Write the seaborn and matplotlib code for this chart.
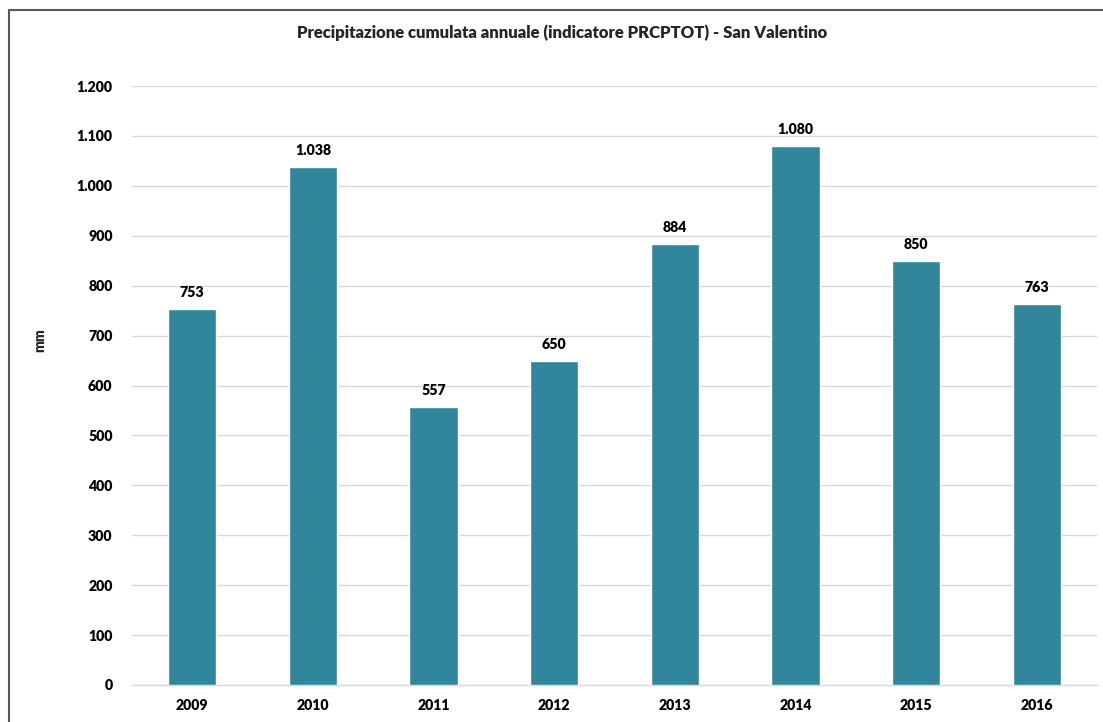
import matplotlib
matplotlib.use("Agg")
import matplotlib.pyplot as plt
import matplotlib.ticker as mticker
from matplotlib.patches import Rectangle
import seaborn as sns
import pandas as pd

years = ["2009", "2010", "2011", "2012", "2013", "2014", "2015", "2016"]
precip = [753, 1038, 557, 650, 884, 1080, 850, 763]
y_ticks = [0, 100, 200, 300, 400, 500, 600, 700, 800, 900, 1000, 1100, 1200]

title = "Precipitazione cumulata annuale (indicatore PRCPTOT) - San Valentino"

sns.set_theme(style="white")
plt.rcParams["font.family"] = ["Lato", "DejaVu Sans"]
plt.rcParams["font.weight"] = "bold"


def it_fmt(v):
    # thousands separator as in Italian locale
    return f"{int(round(v)):,}".replace(",", ".")


df = pd.DataFrame({"anno": years, "mm": precip})

fig = plt.figure(figsize=(11.03, 7.22), dpi=100)
ax = fig.add_axes([132 / 1103, 1 - 685 / 722, (1097 - 132) / 1103, (685 - 86) / 722])

sns.barplot(data=df, x="anno", y="mm", color="#31869b", saturation=1,
            width=0.4, ax=ax, zorder=3)

ax.set_ylim(0, 1200)
ax.set_yticks(y_ticks)
ax.yaxis.set_major_formatter(mticker.FuncFormatter(lambda v, p: it_fmt(v)))
ax.grid(axis="y", color="#d9d9d9", linewidth=1, zorder=0)
for s in ["top", "right", "left"]:
    ax.spines[s].set_visible(False)
ax.spines["bottom"].set_color("#d9d9d9")
ax.spines["bottom"].set_linewidth(1)
ax.tick_params(axis="both", length=0, labelsize=10.2, colors="black")
ax.tick_params(axis="y", pad=14)
ax.tick_params(axis="x", pad=10)
for lbl in ax.get_xticklabels() + ax.get_yticklabels():
    lbl.set_fontweight("heavy")
ax.set_xlabel("")
ax.set_ylabel("")

for i, v in enumerate(precip):
    ax.annotate(it_fmt(v), (i, v), xytext=(0, 7), textcoords="offset points",
                ha="center", va="bottom", fontsize=10.2, fontweight="heavy",
                color="black")

fig.text(40 / 1103, 1 - 340 / 722, "mm", rotation=90, ha="center", va="center",
         fontsize=10, fontweight="heavy")
fig.text(562 / 1103, 1 - 33 / 722, title, ha="center", va="center",
         fontsize=12, fontweight="heavy")

# outer chart frame, cropped on the right and bottom
fig.patches.append(Rectangle((9 / 1103, -0.1), 1.2, 1 - 10 / 722 + 0.1,
                             transform=fig.transFigure, fill=False,
                             edgecolor="#595959", linewidth=1.5))

fig.savefig("out.png", dpi=100)
